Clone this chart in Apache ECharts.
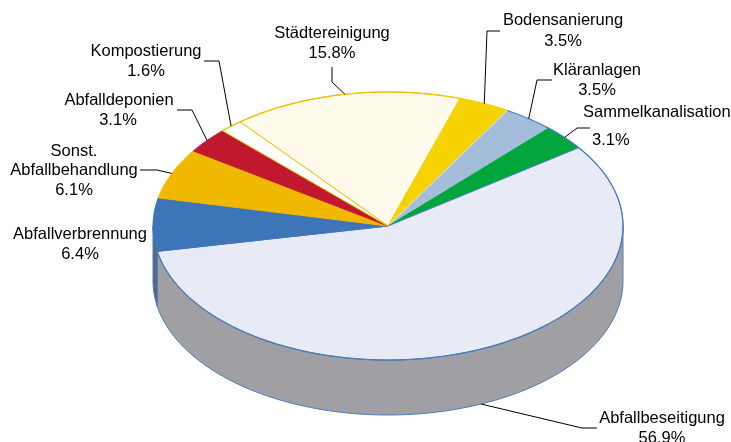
<!DOCTYPE html>
<html>
<head>
<meta charset="utf-8">
<script src="https://cdn.jsdelivr.net/npm/echarts@6/dist/echarts.min.js"></script>
<style>
    html, body { margin: 0; padding: 0; background: #fff; }
    #chart { width: 731px; height: 442px; }
</style>
</head>
<body>
<div id="chart"></div>
<script>
    // data
    const categories = ['Städtereinigung', 'Bodensanierung', 'Kläranlagen', 'Sammelkanalisation',
        'Abfallbeseitigung', 'Abfallverbrennung', 'Sonst.\nAbfallbehandlung', 'Abfalldeponien', 'Kompostierung']
    const shares = [15.8, 3.5, 3.5, 3.1, 56.9, 6.4, 6.1, 3.1, 1.6]

    // styles
    const fillColors = ['#fefbec', '#f5d200', '#a4bddb', '#00a63c', '#e8ebf6', '#3e75b9', '#f1b800', '#c0192f', '#ffffff']
    const borderColors = ['#f2c000', '#f5d200', '#dce5f1', '#00a63c', '#4a7ebb', '#3e75b9', '#f1b800', '#c0192f', '#f2c000']
    const rimColors = ['#f2c000', '#f5d200', '#4a7ebb', '#4a7ebb', '#4a7ebb', null, null, null, '#f2c000']
    const wallColors = ['#c9c6b8', '#b89d00', '#7a8ca4', '#007a2c', '#a09fa4', '#56677f', '#b58a00', '#8e1222', '#c0c0c0']

    // 3d pie geometry (px), start angle measured clockwise from 12 o'clock
    const pie = { cx: 388, cy: 226, rx: 235, ry: 134, depth: 55, start: -39 }

    // label placement: centre of each text line, leader elbow + end
    const labelLayout = [
        { lines: [[332, 33], [332, 53]], align: 'center', leader: [[332, 82], [332, 67]] },
        { lines: [[563, 20], [563, 41]], align: 'center', leader: [[487, 31], [500, 31]] },
        { lines: [[597, 70], [597, 90]], align: 'center', leader: [[537, 80], [552, 80]] },
        { lines: [[583, 112], [592, 140]], align: 'left', leader: [[577, 128], [590, 128]] },
        { lines: [[662, 418], [662, 438]], align: 'center', leader: [[582, 428], [597, 428]] },
        { lines: [[80, 234], [80, 254]], align: 'center', leader: null },
        { lines: [[74, 151], [74, 170], [74, 190]], align: 'center', leader: [[157, 170], [140, 170]] },
        { lines: [[119, 100], [118, 120]], align: 'center', leader: [[192, 110], [177, 110]] },
        { lines: [[146, 51], [146, 71]], align: 'center', leader: [[219, 61], [204, 61]] }
    ]

    const total = shares.reduce((a, b) => a + b, 0)
    const angles = []
    let acc = 0
    shares.forEach(v => {
        const a0 = pie.start + 360 * acc / total
        acc += v
        angles.push([a0, pie.start + 360 * acc / total])
    })

    const pt = (deg, dz) => {
        const t = deg * Math.PI / 180
        return [pie.cx + pie.rx * Math.sin(t), pie.cy - pie.ry * Math.cos(t) + (dz || 0)]
    }
    const arc = (a0, a1, dz) => {
        const n = Math.max(2, Math.ceil(Math.abs(a1 - a0) / 1.5))
        const out = []
        for (let k = 0; k <= n; k++) out.push(pt(a0 + (a1 - a0) * k / n, dz))
        return out
    }

    const seriesData = shares.map((v, i) => ({ name: categories[i], value: v }))

    const renderWall = (params) => {
        const i = params.dataIndex
        const a0 = Math.max(angles[i][0], 90)
        const a1 = Math.min(angles[i][1], 270)
        if (a1 <= a0) return null
        const top = arc(a0, a1, 0)
        const bottom = arc(a0, a1, pie.depth).reverse()
        return {
            type: 'polygon',
            shape: { points: top.concat(bottom) },
            style: { fill: wallColors[i], stroke: '#4a7ebb', lineWidth: 1 }
        }
    }

    const renderTop = (params) => {
        const i = params.dataIndex
        const outer = arc(angles[i][0], angles[i][1], 0)
        const children = [{
            type: 'polygon',
            shape: { points: [[pie.cx, pie.cy]].concat(outer) },
            style: { fill: fillColors[i], stroke: borderColors[i], lineWidth: 1 }
        }]
        if (rimColors[i]) {
            children.push({
                type: 'polyline',
                shape: { points: outer },
                style: { fill: null, stroke: rimColors[i], lineWidth: 1.2 }
            })
        }
        return { type: 'group', children: children }
    }

    const renderLabel = (params) => {
        const i = params.dataIndex
        const lay = labelLayout[i]
        const texts = categories[i].split('\n').concat([shares[i].toFixed(1) + '%'])
        const children = texts.map((s, k) => ({
            type: 'text',
            style: {
                text: s,
                x: lay.lines[k][0],
                y: lay.lines[k][1],
                align: lay.align,
                verticalAlign: 'middle',
                fill: '#000',
                font: '16.5px "Liberation Sans", Arial, sans-serif'
            }
        }))
        if (lay.leader) {
            const mid = (angles[i][0] + angles[i][1]) / 2
            const front = mid > 90 && mid < 270
            const anchor = pt(mid, front ? pie.depth : 0)
            children.push({
                type: 'polyline',
                shape: { points: [anchor].concat(lay.leader) },
                style: { fill: null, stroke: '#000', lineWidth: 1 }
            })
        }
        return { type: 'group', children: children }
    }

    const chart = echarts.init(document.getElementById('chart'))
    chart.setOption({
        animation: false,
        series: [
            { type: 'custom', coordinateSystem: 'none', z: 1, data: seriesData, renderItem: renderWall, silent: true },
            { type: 'custom', coordinateSystem: 'none', z: 2, data: seriesData, renderItem: renderTop, silent: true },
            { type: 'custom', coordinateSystem: 'none', z: 3, data: seriesData, renderItem: renderLabel, silent: true }
        ]
    })
</script>
</body>
</html>
